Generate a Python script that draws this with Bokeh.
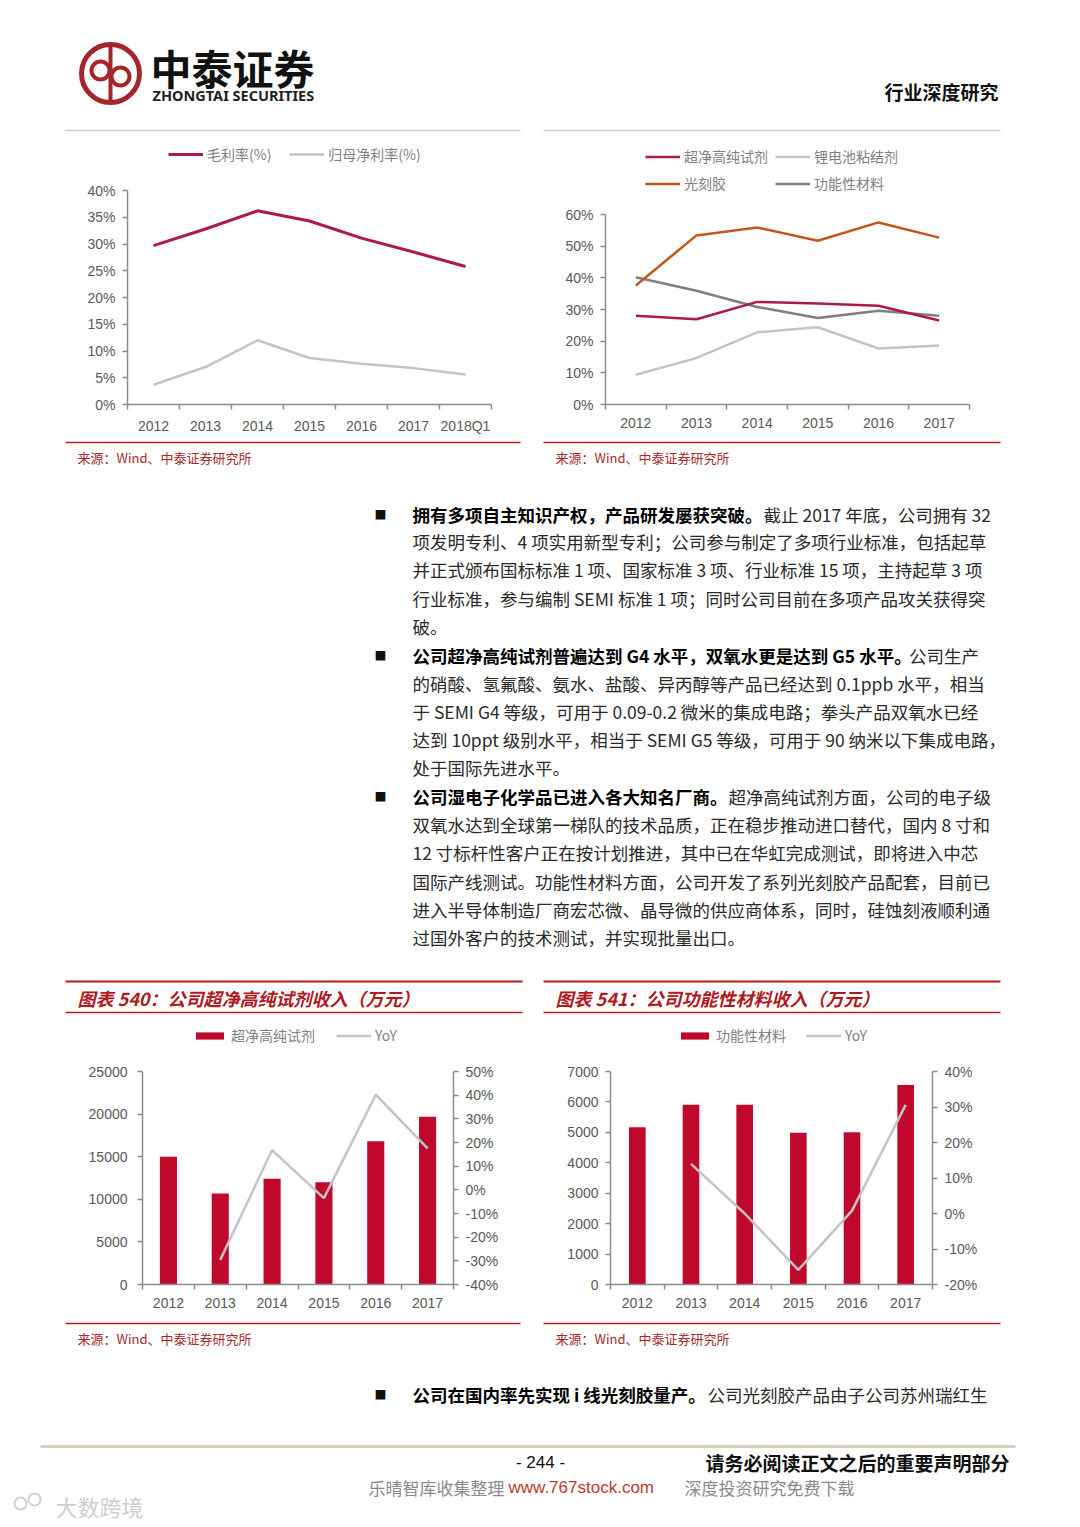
import math
from bokeh.plotting import figure
from bokeh.models import (Range1d, LinearAxis, FixedTicker, PrintfTickFormatter,
                          Legend, LegendItem)
from bokeh.layouts import column, row
from bokeh.core.properties import value
from bokeh.embed import file_html
from bokeh.resources import INLINE

CJK = "Noto Sans CJK SC"
LAT = "Liberation Sans"
AXIS = "#8c8c8c"
TICK_TXT = "#595959"
CRIMSON = "#AE1A45"
BAR_RED = "#C0082C"
LIGHT_GRAY = "#C4C4C4"
DARK_GRAY = "#7F7F7F"
ORANGE = "#C4561C"
SRC_RED = "#A52A2A"
LINE_RED = "#B71C1C"

# ---------------- data ----------------
years_a = ["2012", "2013", "2014", "2015", "2016", "2017", "2018Q1"]
gross_margin = [29.7, 32.8, 36.2, 34.3, 31.1, 28.5, 25.8]
net_margin = [3.7, 7.0, 12.0, 8.7, 7.6, 6.8, 5.6]

years_b = ["2012", "2013", "2014", "2015", "2016", "2017"]
margin_reagent = [28.0, 26.9, 32.4, 31.9, 31.2, 26.5]
margin_binder = [9.4, 14.7, 22.8, 24.4, 17.7, 18.6]
margin_photoresist = [37.6, 53.4, 55.9, 51.7, 57.5, 52.7]
margin_functional = [40.2, 35.9, 30.8, 27.3, 29.6, 28.0]

reagent_revenue = [15000, 10670, 12420, 11990, 16820, 19700]
reagent_yoy = [float("nan"), -29.6, 16.8, -3.5, 40.2, 17.5]
functional_revenue = [5170, 5910, 5910, 4985, 5005, 6555]
functional_yoy = [float("nan"), 14.0, 0.0, -15.9, 0.8, 30.6]

# ---------------- helpers ----------------
def canvas(top, h):
    p = figure(width=1080, height=h, x_range=Range1d(0, 1080), y_range=Range1d(top + h, top),
               output_backend="svg", toolbar_location=None, min_border=0,
               x_axis_type=None, y_axis_type=None)
    p.outline_line_color = None
    p.background_fill_color = "white"
    return p


def txt(p, x, y, s, size, color="#222222", style="normal", font=CJK, align="left"):
    p.text(x=[x], y=[y], text=[s], text_font=value(font), text_font_size=value(f"{size}px"),
           text_font_style=style, text_color=color, text_baseline="middle", text_align=align)


def seg(p, x0, y0, x1, y1, color, w):
    p.segment(x0=[x0], y0=[y0], x1=[x1], y1=[y1], line_color=color, line_width=w)


def est_width(s, fs):
    w = 0.0
    for c in s:
        if ord(c) > 0x2E80:
            w += fs
        elif c == " ":
            w += 0.25 * fs
        elif c in "il.,":
            w += 0.3 * fs
        else:
            w += 0.58 * fs
    return w


def style_axis(ax, gap, ticks=None, fmt=None, bounds=None):
    ax.axis_line_color = AXIS
    ax.axis_line_width = 1.5
    ax.major_label_text_font = LAT
    ax.major_label_text_font_size = "14px"
    ax.major_label_text_color = TICK_TXT
    if bounds is not None:
        ax.bounds = bounds
    if ticks is not None:
        ax.ticker = FixedTicker(ticks=ticks)
        ax.major_tick_line_color = AXIS
        ax.major_tick_line_width = 1.5
        ax.major_tick_out = 5
        ax.major_tick_in = 0
        ax.minor_tick_line_color = None
        ax.major_label_standoff = gap
    if fmt is not None:
        ax.formatter = PrintfTickFormatter(format=fmt)


def ext_top(lo, hi, axis_px, frame_px):
    # range end so that the [lo, hi] axis spans axis_px of a frame_px tall frame
    return lo + (hi - lo) * frame_px / axis_px


def make_chart(labels, lo, hi, yticks, yfmt, width, left, right, top, bottom, height,
               axis_px, gap):
    n = len(labels)
    frame_px = height - top - bottom
    p = figure(width=width, height=height, x_range=Range1d(0.5, n + 0.5),
               y_range=Range1d(lo, ext_top(lo, hi, axis_px, frame_px)),
               output_backend="svg", toolbar_location=None,
               min_border_left=left, min_border_right=right,
               min_border_top=top, min_border_bottom=bottom)
    p.outline_line_color = None
    p.xgrid.visible = False
    p.ygrid.visible = False
    xa = p.xaxis[0]
    style_axis(xa, 0)
    xa.ticker = FixedTicker(ticks=list(range(1, n + 1)),
                            minor_ticks=[i + 0.5 for i in range(n + 1)])
    xa.major_label_overrides = {i + 1: lab for i, lab in enumerate(labels)}
    xa.major_tick_line_color = None
    xa.major_tick_out = 0
    xa.major_tick_in = 0
    xa.minor_tick_line_color = AXIS
    xa.minor_tick_line_width = 1.5
    xa.minor_tick_out = 5
    xa.minor_tick_in = 0
    xa.major_label_standoff = 8
    style_axis(p.yaxis[0], gap, yticks, yfmt, bounds=(lo, hi))
    return p, frame_px


def make_legend(items, loc, spacing, glyph_h, label_h, ncols=None):
    kw = {}
    if ncols:
        kw["ncols"] = ncols
    leg = Legend(items=items, location=loc, orientation="horizontal",
                 border_line_color=None, background_fill_alpha=0,
                 padding=0, margin=0, spacing=spacing,
                 glyph_width=35, glyph_height=glyph_h, label_height=label_h,
                 label_standoff=4, label_text_font=CJK, label_text_font_size="14px",
                 label_text_color="#808080", **kw)
    return leg

# ---------------- header (window y 0..133) ----------------
hdr = canvas(0, 133)
hdr.circle(x=[110], y=[73], radius=29, fill_color=None, line_color="#A6252B", line_width=5)
seg(hdr, 110, 46, 110, 100, "#A6252B", 4)
hdr.circle(x=[100, 120], y=[70, 76], radius=9, fill_color=None, line_color="#A6252B", line_width=4)
txt(hdr, 150, 66, "中泰证券", 41, "#111111", "bold")
txt(hdr, 152, 94, "ZHONGTAI SECURITIES", 14.5, "#222222", "bold", font="Noto Sans")
txt(hdr, 884, 91, "行业深度研究", 19, "#111111", "bold")
seg(hdr, 65, 130, 520, 130, "#D4C8C8", 1.5)
seg(hdr, 543, 130, 1000, 130, "#D4C8C8", 1.5)

# ---------------- top-left chart (window y 133..436) ----------------
tl, _ = make_chart(years_a, 0, 40, list(range(0, 41, 5)), "%d%%", 540, 127, 49, 7, 32, 303, 214, 7)
xa_ = list(range(1, len(years_a) + 1))
r_net = tl.line(xa_, net_margin, line_color=LIGHT_GRAY, line_width=2.5)
r_gross = tl.line(xa_, gross_margin, line_color=CRIMSON, line_width=3)
tl.add_layout(make_legend([LegendItem(label="毛利率(%)", renderers=[r_gross]),
                           LegendItem(label="归母净利率(%)", renderers=[r_net])],
                          (41, 240), 18, 16, 16))

# ---------------- top-right chart ----------------
tr, _ = make_chart(years_b, 0, 60, list(range(0, 61, 10)), "%d%%", 540, 65, 111, 7, 32, 303, 190, 7)
xb = list(range(1, len(years_b) + 1))
r_bind = tr.line(xb, margin_binder, line_color=LIGHT_GRAY, line_width=2.5)
r_func = tr.line(xb, margin_functional, line_color=DARK_GRAY, line_width=2.5)
r_photo = tr.line(xb, margin_photoresist, line_color=ORANGE, line_width=2.5)
r_reag = tr.line(xb, margin_reagent, line_color=CRIMSON, line_width=2.5)
tr.add_layout(make_legend([LegendItem(label="超净高纯试剂", renderers=[r_reag]),
                           LegendItem(label="锂电池粘结剂", renderers=[r_bind]),
                           LegendItem(label="光刻胶", renderers=[r_photo]),
                           LegendItem(label="功能性材料", renderers=[r_func])],
                          (40, 211), 7, 15, 20, ncols=2))

# ---------------- middle text block (window y 436..1015) ----------------
mid = canvas(436, 579)
seg(mid, 65, 442, 520, 442, LINE_RED, 1.5)
seg(mid, 543, 442, 1000, 442, LINE_RED, 1.5)
txt(mid, 77, 457, "来源：Wind、中泰证券研究所", 13, SRC_RED)
txt(mid, 555, 457, "来源：Wind、中泰证券研究所", 13, SRC_RED)

FS = 17.5
paragraphs = [
    ([514, 541, 569, 598, 626], [
        [(True, "拥有多项自主知识产权，产品研发屡获突破。"), (False, "截止 2017 年底，公司拥有 32")],
        [(False, "项发明专利、4 项实用新型专利；公司参与制定了多项行业标准，包括起草")],
        [(False, "并正式颁布国标标准 1 项、国家标准 3 项、行业标准 15 项，主持起草 3 项")],
        [(False, "行业标准，参与编制 SEMI 标准 1 项；同时公司目前在多项产品攻关获得突")],
        [(False, "破。")],
    ]),
    ([655, 683, 711, 739, 767], [
        [(True, "公司超净高纯试剂普遍达到 G4 水平，双氧水更是达到 G5 水平。"), (False, "公司生产")],
        [(False, "的硝酸、氢氟酸、氨水、盐酸、异丙醇等产品已经达到 0.1ppb 水平，相当")],
        [(False, "于 SEMI G4 等级，可用于 0.09-0.2 微米的集成电路；拳头产品双氧水已经")],
        [(False, "达到 10ppt 级别水平，相当于 SEMI G5 等级，可用于 90 纳米以下集成电路，")],
        [(False, "处于国际先进水平。")],
    ]),
    ([796, 824, 852, 881, 909, 937], [
        [(True, "公司湿电子化学品已进入各大知名厂商。"), (False, "超净高纯试剂方面，公司的电子级")],
        [(False, "双氧水达到全球第一梯队的技术品质，正在稳步推动进口替代，国内 8 寸和")],
        [(False, "12 寸标杆性客户正在按计划推进，其中已在华虹完成测试，即将进入中芯")],
        [(False, "国际产线测试。功能性材料方面，公司开发了系列光刻胶产品配套，目前已")],
        [(False, "进入半导体制造厂商宏芯微、晶导微的供应商体系，同时，硅蚀刻液顺利通")],
        [(False, "过国外客户的技术测试，并实现批量出口。")],
    ]),
]


def draw_paragraph(p, ys, lines):
    txt(p, 380, ys[0], "■", 12, "#111111", align="center")
    for y, segs in zip(ys, lines):
        x = 412
        for bold, s in segs:
            if bold:
                txt(p, x, y, s, FS, "#000000", "bold")
                x += est_width(s, FS) + 1
            else:
                txt(p, x, y, s, FS, "#2a2a2a")
                x += est_width(s, FS)


for ys, lines in paragraphs:
    draw_paragraph(mid, ys, lines)

# chart title bands
for x0, x1, title in [(65, 522, "图表 540：公司超净高纯试剂收入（万元）"),
                      (543, 1000, "图表 541：公司功能性材料收入（万元）")]:
    seg(mid, x0, 981, x1, 981, LINE_RED, 2)
    seg(mid, x0, 1012, x1, 1012, LINE_RED, 1.5)
    txt(mid, x0 + 12, 997, title, 18, "#B0191E", "bold italic")

# ---------------- bottom-left chart (window y 1015..1316) ----------------
bl, fpx = make_chart(years_b, 0, 25000, list(range(0, 25001, 5000)), "%d", 540, 142, 87, 10, 32, 301, 213, 10)
bl.extra_y_ranges = {"yoy": Range1d(-40, ext_top(-40, 50, 213, fpx))}
ax_r = LinearAxis(y_range_name="yoy")
style_axis(ax_r, 7, list(range(-40, 51, 10)), "%d%%", bounds=(-40, 50))
bl.add_layout(ax_r, "right")
r_bar1 = bl.vbar(x=xb, top=reagent_revenue, bottom=0, width=0.33, fill_color=BAR_RED, line_color=None)
r_yoy1 = bl.line(xb, reagent_yoy, y_range_name="yoy", line_color=LIGHT_GRAY, line_width=2.5)
bl.add_layout(make_legend([LegendItem(label="超净高纯试剂", renderers=[r_bar1]),
                           LegendItem(label="YoY", renderers=[r_yoy1])],
                          (50, 239), 21, 9, 16))

# ---------------- bottom-right chart ----------------
br, fpx2 = make_chart(years_b, 0, 7000, list(range(0, 7001, 1000)), "%d", 540, 70, 148, 10, 32, 301, 213, 7)
br.extra_y_ranges = {"yoy": Range1d(-20, ext_top(-20, 40, 213, fpx2))}
ax_r2 = LinearAxis(y_range_name="yoy")
style_axis(ax_r2, 7, list(range(-20, 41, 10)), "%d%%", bounds=(-20, 40))
br.add_layout(ax_r2, "right")
r_bar2 = br.vbar(x=xb, top=functional_revenue, bottom=0, width=0.31, fill_color=BAR_RED, line_color=None)
r_yoy2 = br.line(xb, functional_yoy, y_range_name="yoy", line_color=LIGHT_GRAY, line_width=2.5)
br.add_layout(make_legend([LegendItem(label="功能性材料", renderers=[r_bar2]),
                           LegendItem(label="YoY", renderers=[r_yoy2])],
                          (67, 239), 20, 9, 16))

# ---------------- bottom block (window y 1316..1527) ----------------
bot = canvas(1316, 211)
seg(bot, 65, 1323, 520, 1323, LINE_RED, 1.5)
seg(bot, 543, 1323, 1000, 1323, LINE_RED, 1.5)
txt(bot, 77, 1338, "来源：Wind、中泰证券研究所", 13, SRC_RED)
txt(bot, 555, 1338, "来源：Wind、中泰证券研究所", 13, SRC_RED)
draw_paragraph(bot, [1394], [[(True, "公司在国内率先实现 i 线光刻胶量产。"),
                              (False, "公司光刻胶产品由子公司苏州瑞红生")]])
seg(bot, 40, 1446, 1015, 1446, "#D8CDBD", 3)
txt(bot, 540, 1462, "- 244 -", 17, "#111111", font=LAT, align="center")
txt(bot, 705, 1462, "请务必阅读正文之后的重要声明部分", 19, "#111111", "bold")
txt(bot, 368, 1487, "乐晴智库收集整理", 17, "#8a8a8a")
txt(bot, 508, 1487, "www.767stock.com", 17, "#C0392B", font=LAT)
txt(bot, 684, 1487, "深度投资研究免费下载", 17, "#8a8a8a")
bot.circle(x=[20, 34], y=[1503, 1499], radius=6, fill_color=None, line_color="#d0d0d0", line_width=2)
txt(bot, 55, 1505, "大数跨境", 22, "#cfcfcf")

layout = column(hdr, row(tl, tr), mid, row(bl, br), bot)

with open("out.html", "w") as f:
    f.write(file_html(layout, INLINE))
